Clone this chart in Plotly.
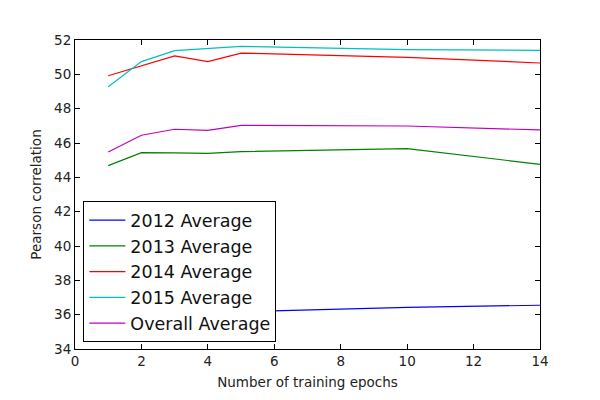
import plotly.graph_objects as go

epochs = [1, 2, 3, 4, 5, 10, 14]
avg_2012 = [34.7, 35.6, 35.8, 35.8, 36.17, 36.43, 36.55]
avg_2013 = [44.68, 45.44, 45.42, 45.40, 45.50, 45.67, 44.76]
avg_2014 = [49.92, 50.50, 51.07, 50.74, 51.24, 50.99, 50.66]
avg_2015 = [49.28, 50.74, 51.38, 51.49, 51.63, 51.44, 51.40]
avg_overall = [45.48, 46.45, 46.80, 46.74, 47.03, 46.99, 46.76]

series = [
    ("2012 Average", avg_2012, "#0000ff"),
    ("2013 Average", avg_2013, "#008000"),
    ("2014 Average", avg_2014, "#ff0000"),
    ("2015 Average", avg_2015, "#00bfbf"),
    ("Overall Average", avg_overall, "#bf00bf"),
]

fig = go.Figure()
for name, vals, col in series:
    fig.add_trace(go.Scatter(x=epochs, y=vals, mode="lines", name=name,
                             line=dict(color=col, width=1.2)))

axis_common = dict(showline=True, linecolor="black", linewidth=1, mirror="allticks",
                   ticks="inside", ticklen=5, tickcolor="black", showgrid=False,
                   zeroline=False, tickfont=dict(size=13.5, color="#222"))

fig.update_layout(
    width=600, height=400,
    margin=dict(l=67, r=68, t=32, b=59),
    paper_bgcolor="white", plot_bgcolor="white",
    font=dict(family="DejaVu Sans", color="#222"),
    xaxis=dict(range=[0, 14], tickvals=[0, 2, 4, 6, 8, 10, 12, 14],
               title=dict(text="Number of training epochs", font=dict(size=13.5), standoff=9),
               **axis_common),
    yaxis=dict(range=[34, 52], tickvals=list(range(34, 53, 2)),
               title=dict(text="Pearson correlation", font=dict(size=13.5), standoff=9),
               **axis_common),
    legend=dict(x=0.018, y=0.022, xanchor="left", yanchor="bottom",
                bordercolor="black", borderwidth=1, bgcolor="white",
                font=dict(size=17.5, color="#111"), tracegroupgap=0,
                itemwidth=36),
    showlegend=True,
)

fig.write_html("out.html")
